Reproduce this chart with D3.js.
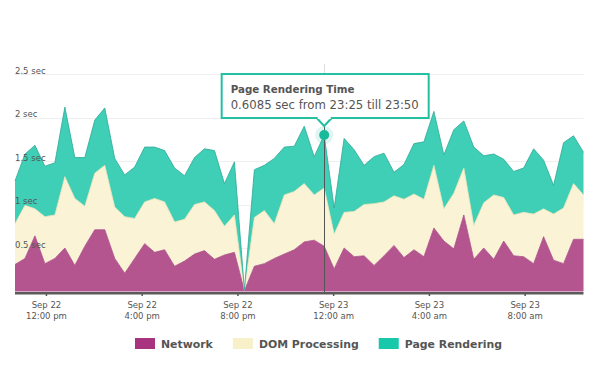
<!DOCTYPE html>
<html><head><meta charset="utf-8">
<script src="https://cdn.jsdelivr.net/npm/d3@7"></script>
<style>
body{margin:0;background:#fff;}
svg{display:block;font-family:"DejaVu Sans",sans-serif;}
</style>
</head><body>
<svg id="chart" width="600" height="380"></svg>
<script>
// ---------- DATA ----------
const intervalStarts = [
 "2015-09-22 10:30","2015-09-22 10:55","2015-09-22 11:20","2015-09-22 11:45","2015-09-22 12:10",
 "2015-09-22 12:35","2015-09-22 13:00","2015-09-22 13:25","2015-09-22 13:50","2015-09-22 14:15",
 "2015-09-22 14:40","2015-09-22 15:05","2015-09-22 15:30","2015-09-22 15:55","2015-09-22 16:20",
 "2015-09-22 16:45","2015-09-22 17:10","2015-09-22 17:35","2015-09-22 18:00","2015-09-22 18:25",
 "2015-09-22 18:50","2015-09-22 19:15","2015-09-22 19:40","2015-09-22 20:05","2015-09-22 20:30",
 "2015-09-22 20:55","2015-09-22 21:20","2015-09-22 21:45","2015-09-22 22:10","2015-09-22 22:35",
 "2015-09-22 23:00","2015-09-22 23:25","2015-09-22 23:50","2015-09-23 00:15","2015-09-23 00:40",
 "2015-09-23 01:05","2015-09-23 01:30","2015-09-23 01:55","2015-09-23 02:20","2015-09-23 02:45",
 "2015-09-23 03:10","2015-09-23 03:35","2015-09-23 04:00","2015-09-23 04:25","2015-09-23 04:50",
 "2015-09-23 05:15","2015-09-23 05:40","2015-09-23 06:05","2015-09-23 06:30","2015-09-23 06:55",
 "2015-09-23 07:20","2015-09-23 07:45","2015-09-23 08:10","2015-09-23 08:35","2015-09-23 09:00",
 "2015-09-23 09:25","2015-09-23 09:50","2015-09-23 10:15"
];
const intervalMinutes = 25;

const network = [
 0.31,0.38,0.64,0.32,0.38,0.50,0.30,0.52,0.71,0.71,
 0.38,0.21,0.38,0.55,0.45,0.48,0.29,0.35,0.43,0.47,
 0.37,0.42,0.45,0.01,0.29,0.32,0.38,0.43,0.48,0.57,
 0.59,0.52,0.26,0.50,0.40,0.41,0.30,0.41,0.53,0.39,
 0.48,0.40,0.73,0.58,0.49,0.88,0.37,0.50,0.37,0.58,
 0.41,0.40,0.32,0.63,0.36,0.32,0.60,0.60
];
const domProcessing = [
 0.47,0.61,0.31,0.54,0.50,0.82,0.77,0.46,0.65,0.74,
 0.59,0.65,0.46,0.48,0.62,0.55,0.51,0.48,0.57,0.56,
 0.56,0.33,0.43,0.005,0.56,0.61,0.40,0.68,0.67,0.67,
 0.52,0.67,0.40,0.41,0.52,0.59,0.71,0.62,0.57,0.67,
 0.64,0.66,0.72,0.37,0.64,0.54,0.39,0.52,0.74,0.50,
 0.47,0.51,0.57,0.32,0.53,0.64,0.64,0.51
];
const pageRendering = [
 0.49,0.59,0.73,0.58,0.60,0.80,0.47,0.56,0.61,0.66,
 0.56,0.48,0.59,0.63,0.59,0.59,0.62,0.50,0.54,0.61,
 0.69,0.49,0.61,0.005,0.55,0.52,0.75,0.55,0.52,0.66,
 0.44,0.6085,0.30,0.85,0.71,0.45,0.54,0.56,0.27,0.40,
 0.58,0.66,0.62,0.62,0.73,0.54,0.90,0.54,0.47,0.44,
 0.50,0.51,0.75,0.56,0.33,0.75,0.55,0.49
];

const seriesNames = ["Network","DOM Processing","Page Rendering"];
const areaColors = ["#b4558f","#faf3d6","#3ecfb6"];
const lineColors = ["#a84784","#eee3b8","#2fa996"];
const swatchColors = ["#a8337f","#f8f0c8","#17c8aa"];

const yTicks = [0.5,1,1.5,2,2.5];
const yTickLabels = ["0.5 sec","1 sec","1.5 sec","2 sec","2.5 sec"];
const xTickTimes = ["2015-09-22 12:00","2015-09-22 16:00","2015-09-22 20:00","2015-09-23 00:00","2015-09-23 04:00","2015-09-23 08:00"];
const xTickLabels = [["Sep 22","12:00 pm"],["Sep 22","4:00 pm"],["Sep 22","8:00 pm"],["Sep 23","12:00 am"],["Sep 23","4:00 am"],["Sep 23","8:00 am"]];

const tooltipIndex = 31;
const tooltipTitle = "Page Rendering Time";
const tooltipText = "0.6085 sec from 23:25 till 23:50";

// ---------- BUILD ----------
const parse = d3.timeParse("%Y-%m-%d %H:%M");
const rows = intervalStarts.map((s,i)=>{
  const st = parse(s);
  return {t: new Date(st.getTime() + intervalMinutes*60000/2), start: st,
          network: network[i], dom: domProcessing[i], render: pageRendering[i]};
});
const keys = ["network","dom","render"];
const stacked = d3.stack().keys(keys)(rows);

const svg = d3.select("#chart");
const x = d3.scaleTime().domain([rows[0].t, rows[rows.length-1].t]).range([15, 583.5]);
const y = d3.scaleLinear().domain([0,2.5]).range([291.5, 74]);

// gridlines
svg.append("g").selectAll("line").data(yTicks).join("line")
  .attr("x1",15).attr("x2",583.5)
  .attr("y1",d=>Math.round(y(d))+0.5).attr("y2",d=>Math.round(y(d))+0.5)
  .attr("stroke","#efefef").attr("stroke-width",1);

// areas
const area = d3.area().x(d=>x(d.data.t)).y0(d=>y(d[0])).y1(d=>y(d[1]));
const topLine = d3.line().x(d=>x(d.data.t)).y(d=>y(d[1]));
const ga = svg.append("g");
stacked.forEach((s,k)=>{
  ga.append("path").attr("d",area(s)).attr("fill",areaColors[k]);
});
stacked.forEach((s,k)=>{
  ga.append("path").attr("d",topLine(s)).attr("fill","none")
    .attr("stroke",lineColors[k]).attr("stroke-width",1).attr("stroke-opacity",0.8);
});

// y labels
svg.append("g").selectAll("text").data(yTicks).join("text")
  .attr("x",15).attr("y",d=>y(d)-0.5)
  .attr("font-size","8.5px").attr("fill","#555")
  .text((d,i)=>yTickLabels[i]);

// x axis
const xTicks = xTickTimes.map(parse);
const xAxis = d3.axisBottom(x).tickValues(xTicks).tickSize(3).tickPadding(4).tickFormat(()=>"");
const gx = svg.append("g").attr("transform","translate(0,293)").call(xAxis);
gx.select(".domain").remove();
gx.selectAll(".tick line").attr("stroke","#555").attr("stroke-width",1.5);
gx.selectAll(".tick").each(function(d,i){
  const t = d3.select(this).select("text")
    .attr("fill","#555").attr("font-size","8.5px").attr("font-family","DejaVu Sans, sans-serif")
    .attr("y",0).attr("dy",null);
  t.append("tspan").attr("x",0).attr("y",14.5).text(xTickLabels[i][0]);
  t.append("tspan").attr("x",0).attr("y",26).text(xTickLabels[i][1]);
});
svg.append("line").attr("x1",15).attr("x2",583.5).attr("y1",293.2).attr("y2",293.2)
  .attr("stroke","#5a5a5a").attr("stroke-width",2.5);

// tooltip
const tr = rows[tooltipIndex];
const px = x(tr.t);
const py = y(tr.network + tr.dom + tr.render);
svg.append("line").attr("x1",Math.round(px)+0.5).attr("x2",Math.round(px)+0.5)
  .attr("y1",64).attr("y2",py-17).attr("stroke","#ddd");
svg.append("line").attr("x1",Math.round(px)+0.5).attr("x2",Math.round(px)+0.5)
  .attr("y1",py-9).attr("y2",292).attr("stroke","#555");
svg.append("circle").attr("cx",px).attr("cy",py).attr("r",9)
  .attr("fill","#1fbfa0").attr("fill-opacity",0.15);
svg.append("circle").attr("cx",px).attr("cy",py).attr("r",5).attr("fill","#1ab99b");

const bw = 207, bh = 44;
const bx = px - bw/2 + 1, by = py - 17 - bh;
const tip = svg.append("g");
tip.append("rect").attr("x",bx).attr("y",by).attr("width",bw).attr("height",bh)
  .attr("fill","#fff").attr("stroke","#21c0a0").attr("stroke-width",2);
tip.append("path")
  .attr("d",`M${px-7.5},${by+bh} L${px},${py-9} L${px+7.5},${by+bh}`)
  .attr("fill","#fff").attr("stroke","#21c0a0").attr("stroke-width",2);
tip.append("rect").attr("x",px-6.5).attr("y",by+bh-2).attr("width",13).attr("height",3).attr("fill","#fff");
tip.append("text").attr("x",bx+9).attr("y",by+19).attr("font-size","10.3px")
  .attr("font-weight","bold").attr("fill","#555").text(tooltipTitle);
tip.append("text").attr("x",bx+9).attr("y",by+34.5).attr("font-size","11.7px")
  .attr("fill","#555").text(tooltipText);

// legend
const lg = svg.append("g");
let lx = 135;
seriesNames.forEach((n,k)=>{
  lg.append("rect").attr("x",lx).attr("y",338).attr("width",20).attr("height",11).attr("fill",swatchColors[k]);
  const t = lg.append("text").attr("x",lx+26).attr("y",347.8).attr("font-size","10.9px")
    .attr("font-weight","bold").attr("fill","#555").text(n);
  lx += 26 + t.node().getComputedTextLength() + 20;
});
</script>
</body></html>
